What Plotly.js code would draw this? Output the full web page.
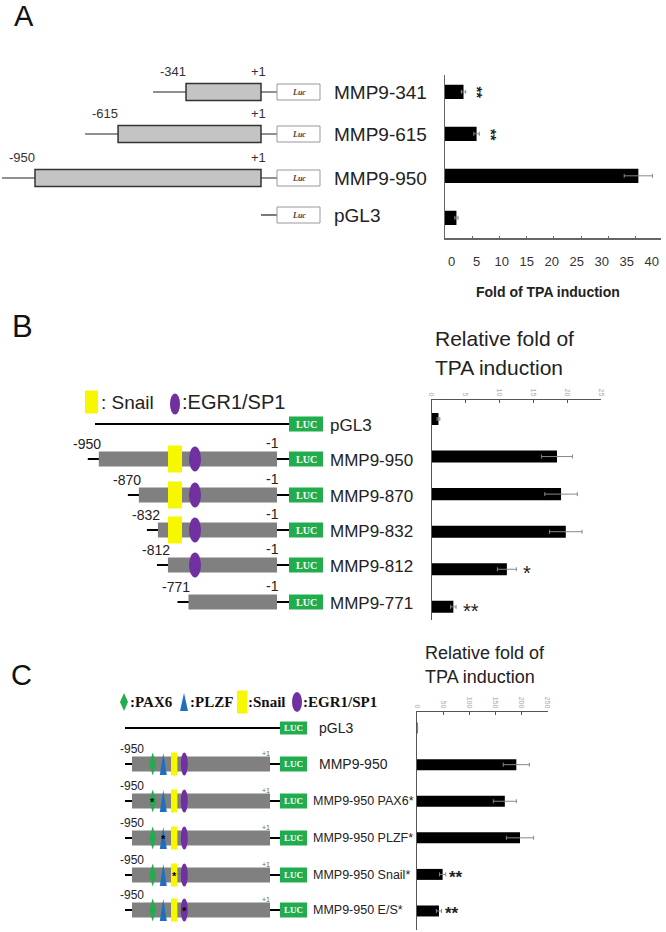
<!DOCTYPE html>
<html><head><meta charset="utf-8">
<script src="https://cdn.plot.ly/plotly-3.0.1.min.js"></script>
<style>html,body{margin:0;padding:0;background:#fff}</style>
</head><body><div id="chart" style="width:666px;height:932px"></div>
<script>
// ---------------- DATA ----------------
// Panel A
const aConstructs = ['MMP9-341', 'MMP9-615', 'MMP9-950', 'pGL3'];
const aStartBp = [-341, -615, -950, null];
const aFold = [3.4, 5.8, 35.5, 2.1];
const aErr = [0.4, 0.5, 2.6, 0.3];
const aSig = ['**', '**', '', ''];
const aTickVals = [0, 5, 10, 15, 20, 25, 30, 35, 40];

// Panel B
const bConstructs = ['pGL3', 'MMP9-950', 'MMP9-870', 'MMP9-832', 'MMP9-812', 'MMP9-771'];
const bStartBp = [null, -950, -870, -832, -812, -771];
const bHasSnail = [false, true, true, true, false, false];
const bHasEgr = [false, true, true, true, true, false];
const bFold = [1.0, 18.5, 19.1, 19.8, 11.1, 3.2];
const bErr = [0.2, 2.3, 2.4, 2.4, 1.4, 0.4];
const bSig = ['', '', '', '', '*', '**'];
const bTickVals = [0, 5, 10, 15, 20, 25];

// Panel C
const cConstructs = ['pGL3', 'MMP9-950', 'MMP9-950 PAX6*', 'MMP9-950 PLZF*', 'MMP9-950 Snail*', 'MMP9-950 E/S*'];
const cSites = ['PAX6', 'PLZF', 'Snail', 'EGR1/SP1'];
const cMutated = [null, null, 'PAX6', 'PLZF', 'Snail', 'EGR1/SP1'];
const cFold = [1, 190, 168, 197, 49, 42];
const cErr = [0.3, 25, 22, 26, 6, 5];
const cSig = ['', '', '', '', '**', '**'];
const cTickVals = [0, 50, 100, 150, 200, 250];

// ---------------- STYLE / LAYOUT ----------------
const W = 666, H = 932;
const SANS = 'Liberation Sans, Arial, sans-serif';
const SERIF = 'Liberation Serif, Times New Roman, serif';
const COL = {grey: '#808080', lightgrey: '#c4c4c4', green: '#21ad4e', blue: '#1f6fbf', yellow: '#f7f700', purple: '#7030a0'};
const px = x => x / W, py = y => 1 - y / H;

const shapes = [], ann = [];
function S(o) { shapes.push(Object.assign({xref: 'x4', yref: 'y4', layer: 'above'}, o)); }
function hline(x0, x1, y, w, c) { S({type: 'line', x0, x1, y0: y, y1: y, line: {color: c || '#000', width: w || 2}}); }
function rect(x0, x1, yc, h, fill, lc, lw) { S({type: 'rect', x0, x1, y0: yc - h / 2, y1: yc + h / 2, fillcolor: fill, line: {color: lc || fill, width: lw === undefined ? 0 : lw}}); }
function ell(cx, cy, w, h, fill) { S({type: 'circle', x0: cx - w / 2, x1: cx + w / 2, y0: cy - h / 2, y1: cy + h / 2, fillcolor: fill, line: {width: 0}}); }
function diamond(cx, cy, w, h, fill) { S({type: 'path', path: `M ${cx},${cy - h / 2} L ${cx + w / 2},${cy} L ${cx},${cy + h / 2} L ${cx - w / 2},${cy} Z`, fillcolor: fill, line: {width: 0}}); }
function tri(cx, cy, w, h, fill) { S({type: 'path', path: `M ${cx},${cy - h / 2} L ${cx + w / 2},${cy + h / 2} L ${cx - w / 2},${cy + h / 2} Z`, fillcolor: fill, line: {width: 0}}); }
function T(x, y, text, size, o) {
  const a = Object.assign({xref: 'x4', yref: 'y4', x, y, text, showarrow: false, xanchor: 'left', yanchor: 'middle'}, o || {});
  a.font = Object.assign({family: SANS, size, color: '#222'}, (o && o.font) || {});
  ann.push(a);
}

// Panel letters
T(24, 16, 'A', 29, {xanchor: 'center', font: {color: '#111'}});
T(22, 326, 'B', 31, {xanchor: 'center', font: {color: '#111'}});
T(21, 675, 'C', 29, {xanchor: 'center', font: {color: '#111'}});

// ----- Panel A schematic -----
const aRowY = [92, 134, 178, 215];
const aMap = bp => 35 + (bp + 950) * 0.248;
const aBoxEnd = 261, aLead = 33, aLucX = 277, aLucW = 43;
aConstructs.forEach((name, i) => {
  const y = aRowY[i];
  if (aStartBp[i] !== null) {
    const x0 = aMap(aStartBp[i]);
    hline(x0 - aLead, aLucX, y, 1.2, '#222');
    rect(x0, aBoxEnd, y, 17, COL.lightgrey, '#333', 1.5);
    T(x0 - 13, y - 21, String(aStartBp[i]), 13, {xanchor: 'center', font: {color: '#333'}});
    T(aBoxEnd - 3, y - 21, '+1', 13, {xanchor: 'center', font: {color: '#333'}});
  } else {
    hline(aBoxEnd, aLucX, y, 1.2, '#222');
  }
  rect(aLucX, aLucX + aLucW, y, 16, '#fff', '#999', 1);
  T(aLucX + aLucW / 2, y, 'Luc', 8, {xanchor: 'center', font: {family: SERIF, color: '#444', style: 'italic', weight: 'bold'}});
  T(332, y, name, 19);
});

// ----- Panel B schematic -----
T(433, 338, 'Relative fold of', 21);
T(433, 367, 'TPA induction', 21);
rect(85, 98, 402, 23, COL.yellow);
T(99, 402, ': Snail', 19);
ell(175, 404, 10, 21, COL.purple);
T(180, 402, ':EGR1/SP1', 20);
const bRowY = [424, 459, 495, 530, 565, 602];
const bMap = bp => 150.4 + 0.501 * (bp + 847);
const bBoxEnd = 277, bLucX = 289, bLucW = 34;
bConstructs.forEach((name, i) => {
  const y = bRowY[i];
  if (bStartBp[i] === null) {
    hline(95, bLucX, y, 2);
  } else {
    const x0 = bMap(bStartBp[i]);
    hline(x0 - 11, bLucX, y, 2);
    rect(x0, bBoxEnd, y, 15, COL.grey);
    if (bHasSnail[i]) rect(168, 182, y, 27, COL.yellow);
    if (bHasEgr[i]) ell(195, y, 12, 25, COL.purple);
    T(x0 - 12, y - 15, String(bStartBp[i]), 14, {xanchor: 'center'});
    T(272, y - 16, '-1', 14, {xanchor: 'center'});
  }
  rect(bLucX, bLucX + bLucW, y, 15, COL.green);
  T(bLucX + bLucW / 2, y, 'LUC', 10, {xanchor: 'center', font: {family: SERIF, color: '#fff', weight: 'bold'}});
  T(328, y + 1, name, 17);
});

// ----- Panel C schematic -----
T(423, 653, 'Relative fold of', 18);
T(423, 677, 'TPA induction', 18);
const legY = 702;
diamond(124, legY, 8, 18, COL.green);
T(128, legY, ':PAX6', 15, {font: {family: SERIF, weight: 'bold', color: '#111'}});
tri(184, legY, 8, 18, COL.blue);
T(188, legY, ':PLZF', 15, {font: {family: SERIF, weight: 'bold', color: '#111'}});
rect(237, 247, legY, 23, COL.yellow);
T(246, legY, ':Snail', 15, {font: {family: SERIF, weight: 'bold', color: '#111'}});
ell(297, legY, 10, 20, COL.purple);
T(301, legY, ':EGR1/SP1', 15, {font: {family: SERIF, weight: 'bold', color: '#111'}});

const cRowY = [728, 764, 801, 838, 875, 910];
const cBoxX0 = 132, cBoxEnd = 270, cLucX = 280, cLucW = 27;
const cSiteX = {'PAX6': 152.7, 'PLZF': 163.3, 'Snail': 174.2, 'EGR1/SP1': 184.3};
cConstructs.forEach((name, i) => {
  const y = cRowY[i];
  if (i === 0) {
    hline(125, cLucX, y, 2);
    rect(cLucX, cLucX + cLucW, y, 13, COL.green);
  } else {
    hline(125, cLucX, y, 2);
    rect(cBoxX0, cBoxEnd, y, 15, COL.grey);
    diamond(cSiteX['PAX6'], y, 7, 23, COL.green);
    tri(cSiteX['PLZF'], y, 7, 22, COL.blue);
    rect(cSiteX['Snail'] - 3.2, cSiteX['Snail'] + 3.2, y, 23, COL.yellow);
    ell(cSiteX['EGR1/SP1'], y, 7, 23, COL.purple);
    if (cMutated[i]) T(cSiteX[cMutated[i]], y + 1, '*', 11, {xanchor: 'center', font: {color: '#000', weight: 'bold'}});
    T(cBoxX0, y - 15, '-950', 12, {xanchor: 'center'});
    T(266, y - 11, '+1', 7, {xanchor: 'center', font: {color: '#666'}});
    rect(cLucX, cLucX + cLucW, y, 15, COL.green);
  }
  T(cLucX + cLucW / 2, y, 'LUC', 9, {xanchor: 'center', font: {family: SERIF, color: '#fff', weight: 'bold'}});
  T(i <= 1 ? 316.7 : 310.5, y, name, i <= 1 ? 14 : 12.5);
});

// ----- Significance asterisks -----
aConstructs.forEach((n, i) => {
  if (aSig[i]) ann.push({xref: 'x', yref: 'y', x: aFold[i] + aErr[i] + 2.5, y: i, xshift: -2, yshift: -1, textangle: 90, text: aSig[i], showarrow: false, xanchor: 'center', yanchor: 'middle', font: {family: SANS, size: 15, color: '#222', weight: 'bold'}});
});
bConstructs.forEach((n, i) => { if (bSig[i]) ann.push({xref: 'x2', yref: 'y2', x: bFold[i] + bErr[i] + 0.7, y: i, yshift: -4, text: bSig[i], showarrow: false, xanchor: 'left', yanchor: 'middle', font: {family: SANS, size: 20, color: '#222'}}); });
cConstructs.forEach((n, i) => { if (cSig[i]) ann.push({xref: 'x3', yref: 'y3', x: cFold[i] + cErr[i] + 2, y: i, yshift: -3, text: cSig[i], showarrow: false, xanchor: 'left', yanchor: 'middle', font: {family: SANS, size: 17, color: '#222', weight: 'bold'}}); });

// A axis title
ann.push({xref: 'paper', yref: 'paper', x: px(548), y: py(292), text: 'Fold of TPA induction', showarrow: false, xanchor: 'center', yanchor: 'middle', font: {family: SANS, size: 14, color: '#222', weight: 'bold'}});

// ---------------- TRACES ----------------
const barBase = {type: 'bar', orientation: 'h', marker: {color: '#000'}, hoverinfo: 'x+y', showlegend: false};
const errStyle = arr => ({type: 'data', array: arr, symmetric: true, color: '#888', thickness: 1, width: 2});
const traces = [
  Object.assign({}, barBase, {x: aFold, y: aConstructs, error_x: errStyle(aErr), width: 0.34, xaxis: 'x', yaxis: 'y'}),
  Object.assign({}, barBase, {x: bFold, y: bConstructs, error_x: errStyle(bErr), width: 0.32, xaxis: 'x2', yaxis: 'y2'}),
  Object.assign({}, barBase, {x: cFold, y: cConstructs, error_x: errStyle(cErr), width: 0.3, xaxis: 'x3', yaxis: 'y3'}),
  {type: 'scatter', x: [0], y: [0], mode: 'markers', marker: {opacity: 0}, xaxis: 'x4', yaxis: 'y4', hoverinfo: 'skip', showlegend: false},
  {type: 'scatter', x: [0], y: [aConstructs[3]], mode: 'markers', marker: {opacity: 0}, xaxis: 'x5', yaxis: 'y', hoverinfo: 'skip', showlegend: false}
];

const noGrid = {showgrid: false, zeroline: false, fixedrange: true};
const layout = {
  width: W, height: H, margin: {l: 0, r: 0, t: 0, b: 0}, paper_bgcolor: '#fff', plot_bgcolor: 'rgba(0,0,0,0)',
  showlegend: false, font: {family: SANS},
  xaxis: Object.assign({domain: [px(445), px(660.7)], range: [0, 39.6], anchor: 'y', showline: true, linecolor: '#666', linewidth: 1.5,
    ticks: 'inside', ticklen: 2, tickcolor: '#666', tickvals: aTickVals.slice(0, 8), showticklabels: false}, noGrid),
  xaxis5: Object.assign({domain: [px(451.7), px(651.7)], range: [0, 40], anchor: 'free', position: py(252),
    showline: false, ticks: '', tickvals: aTickVals, tickfont: {size: 13, color: '#333', family: SANS}}, noGrid),
  yaxis: Object.assign({domain: [py(238), py(75)], type: 'category', categoryarray: aConstructs, categoryorder: 'array', range: [3.48, -0.4],
    anchor: 'x', showline: true, linecolor: '#666', linewidth: 1.5, showticklabels: false, ticks: ''}, noGrid),
  xaxis2: Object.assign({domain: [px(431.7), px(601)], range: [0, 25], anchor: 'y2', side: 'top', showline: true, linecolor: '#555', linewidth: 1.2,
    ticks: 'inside', ticklen: 3, tickcolor: '#555', tickvals: bTickVals, tickangle: 90, tickfont: {size: 7, color: '#aaa', family: SANS}}, noGrid),
  yaxis2: Object.assign({domain: [py(620), py(400)], type: 'category', categoryarray: bConstructs, categoryorder: 'array', range: [5.35, -0.505],
    anchor: 'x2', showline: true, linecolor: '#555', linewidth: 1.2, showticklabels: false, ticks: ''}, noGrid),
  xaxis3: Object.assign({domain: [px(417), px(547.7)], range: [0, 250], anchor: 'y3', side: 'top', showline: true, linecolor: '#555', linewidth: 1.2,
    ticks: 'inside', ticklen: 3, tickcolor: '#555', tickvals: cTickVals, tickangle: 90, tickfont: {size: 7, color: '#aaa', family: SANS}}, noGrid),
  yaxis3: Object.assign({domain: [py(930), py(712)], type: 'category', categoryarray: cConstructs, categoryorder: 'array', range: [5.52, -0.44],
    anchor: 'x3', showline: true, linecolor: '#555', linewidth: 1.2, showticklabels: false, ticks: ''}, noGrid),
  xaxis4: Object.assign({domain: [0, 1], range: [0, W], anchor: 'y4', visible: false}, noGrid),
  yaxis4: Object.assign({domain: [0, 1], range: [H, 0], anchor: 'x4', visible: false}, noGrid),
  shapes: shapes, annotations: ann
};
Plotly.newPlot('chart', traces, layout, {displayModeBar: false, staticPlot: true});
</script></body></html>
